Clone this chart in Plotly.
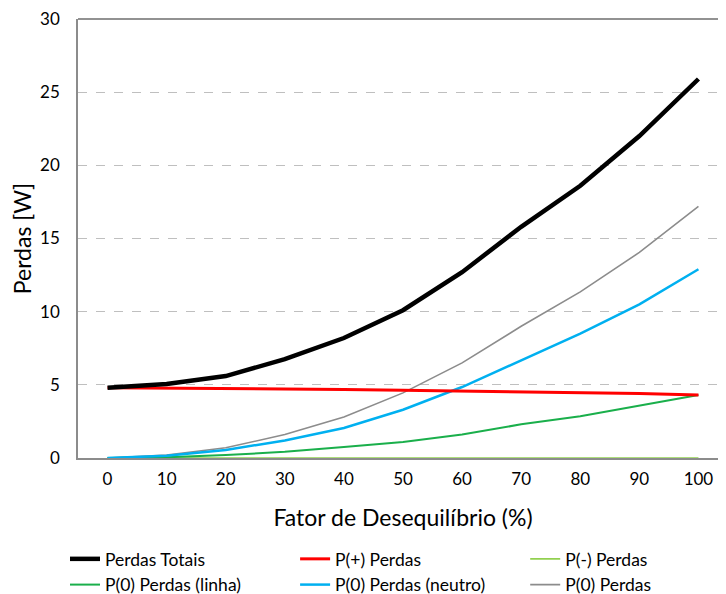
import plotly.graph_objects as go

fator = [0, 10, 20, 30, 40, 50, 60, 70, 80, 90, 100]
perdas_totais = [4.8, 5.05, 5.6, 6.75, 8.2, 10.1, 12.7, 15.8, 18.6, 22.0, 25.9]
p_pos = [4.8, 4.78, 4.75, 4.72, 4.68, 4.63, 4.58, 4.52, 4.46, 4.4, 4.3]
p_neg = [0.0, 0.0, 0.0, 0.0, 0.0, 0.0, 0.0, 0.0, 0.0, 0.0, 0.0]
p0_linha = [0.0, 0.05, 0.2, 0.42, 0.75, 1.1, 1.6, 2.3, 2.85, 3.55, 4.3]
p0_neutro = [0.0, 0.15, 0.55, 1.2, 2.05, 3.3, 4.85, 6.7, 8.5, 10.5, 12.9]
p0_total = [0.0, 0.2, 0.7, 1.6, 2.8, 4.45, 6.5, 9.0, 11.35, 14.05, 17.2]

xcat = [str(v) for v in fator]
FONT = "Lato, Open Sans, sans-serif"

fig = go.Figure()
fig.add_trace(go.Scatter(x=xcat, y=p_neg, mode="lines", name="P(-) Perdas",
                         line=dict(color="#92D050", width=1.6), legend="legend3"))
fig.add_trace(go.Scatter(x=xcat, y=p0_total, mode="lines", name="P(0) Perdas",
                         line=dict(color="#8C8C8C", width=1.6), legend="legend3"))
fig.add_trace(go.Scatter(x=xcat, y=p0_linha, mode="lines", name="P(0) Perdas (linha)",
                         line=dict(color="#1AAF4B", width=2), legend="legend"))
fig.add_trace(go.Scatter(x=xcat, y=p0_neutro, mode="lines", name="P(0) Perdas (neutro)",
                         line=dict(color="#00B0F0", width=2.5), legend="legend2"))
fig.add_trace(go.Scatter(x=xcat, y=p_pos, mode="lines", name="P(+) Perdas",
                         line=dict(color="#FF0000", width=3), legend="legend2"))
fig.add_trace(go.Scatter(x=xcat, y=perdas_totais, mode="lines", name="Perdas Totais",
                         line=dict(color="#000000", width=4.5), legend="legend"))

leg_common = dict(orientation="v", font=dict(family=FONT, size=17.5, color="#000"),
                  bgcolor="rgba(0,0,0,0)", yanchor="top", xanchor="left",
                  tracegroupgap=0, itemwidth=30)

fig.update_layout(
    width=726, height=594,
    margin=dict(l=70, r=6, t=11, b=144, autoexpand=False),
    paper_bgcolor="white", plot_bgcolor="white",
    font=dict(family=FONT, color="#000"),
    xaxis=dict(
        type="category", range=[-0.5, 10.5], automargin=False,
        showline=True, linecolor="#8C8C8C", linewidth=2,
        showgrid=False, ticks="outside", ticklen=5, tickcolor="rgba(0,0,0,0)",
        tickfont=dict(family=FONT, size=17, color="#000"),
        title=dict(text="Fator de Desequilíbrio (%)", font=dict(family=FONT, size=23, color="#000"), standoff=21),
    ),
    yaxis=dict(
        range=[0, 30], dtick=5, automargin=False, ticklabeloverflow="allow",
        showline=True, linecolor="#8C8C8C", linewidth=1.5,
        showgrid=True, gridcolor="#BFBFBF", griddash="dash", gridwidth=1.3,
        zeroline=False, ticks="outside", ticklen=13, tickcolor="rgba(0,0,0,0)",
        tickfont=dict(family=FONT, size=17, color="#000"),
        title=dict(text="Perdas [W]", font=dict(family=FONT, size=23, color="#000"), standoff=6),
    ),
    legend=dict(x=-0.02, y=-0.189, traceorder="reversed", **leg_common),
    legend2=dict(x=0.334, y=-0.189, traceorder="reversed", **leg_common),
    legend3=dict(x=0.688, y=-0.189, traceorder="normal", **leg_common),
    shapes=[dict(type="line", xref="paper", yref="paper", x0=0, x1=1, y0=1, y1=1,
                 line=dict(color="#6E6E6E", width=1.5))],
)

fig.write_html("out.html")
